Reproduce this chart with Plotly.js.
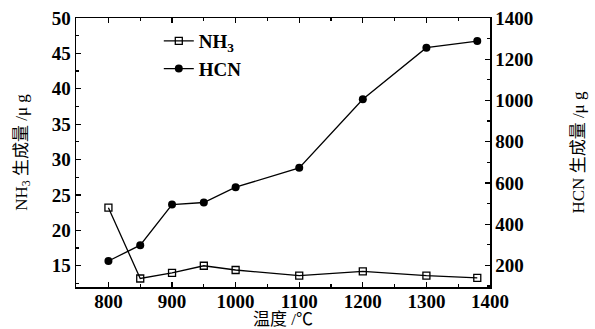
<!DOCTYPE html>
<html>
<head>
<meta charset="utf-8">
<script src="https://cdn.plot.ly/plotly-3.0.1.min.js"></script>
<style>html,body{margin:0;padding:0;background:#fff;}#chart{width:595px;height:329px;}</style>
</head>
<body>
<div id="chart"></div>
<script>
const temperature = [800, 850, 900, 950, 1000, 1100, 1200, 1300, 1380];
const nh3Values = [23.2, 13.2, 14.0, 15.0, 14.4, 13.6, 14.2, 13.6, 13.3];
const hcnValues = [221, 298, 495, 505, 579, 673, 1006, 1256, 1288];
const xTicks = [800, 900, 1000, 1100, 1200, 1300, 1400];

const serif = "'Liberation Serif', 'Noto Sans CJK SC', serif";
const tickFont = {family: serif, size: 19, color: '#000', weight: 700};
const titleFont = {family: serif, size: 17, color: '#000'};

const traces = [
  {
    x: temperature, y: nh3Values, name: 'NH<sub>3</sub>', yaxis: 'y',
    mode: 'lines+markers', line: {color: '#000', width: 1.3},
    marker: {symbol: 'square-open', size: 7, color: '#000', line: {width: 1.3, color: '#000'}}
  },
  {
    x: temperature, y: hcnValues, name: 'HCN', yaxis: 'y2',
    mode: 'lines+markers', line: {color: '#000', width: 1.3},
    marker: {symbol: 'circle', size: 8, color: '#000'}
  }
];

const layout = {
  width: 595, height: 329,
  margin: {l: 76, r: 105, t: 18, b: 42},
  paper_bgcolor: '#fff', plot_bgcolor: '#fff',
  showlegend: true,
  legend: {
    x: 0.2, y: 0.985, xanchor: 'left', yanchor: 'top',
    bgcolor: 'rgba(0,0,0,0)', borderwidth: 0,
    font: {family: serif, size: 19, color: '#000', weight: 700},
    tracegroupgap: 0, itemwidth: 30
  },
  xaxis: {
    range: [749, 1400], tickvals: xTicks, ticktext: xTicks.map(String),
    showline: true, linecolor: '#000', linewidth: 1.5, mirror: 'ticks',
    ticks: 'inside', ticklen: 5, tickwidth: 1.2, tickcolor: '#000',
    minor: {dtick: 50, tick0: 0, ticks: 'inside', ticklen: 3, tickcolor: '#000'},
    showgrid: false, zeroline: false, tickfont: tickFont, ticklabelstandoff: -3,
    title: {text: '温度 /℃', font: titleFont, standoff: 4}
  },
  yaxis: {
    range: [12, 50], dtick: 5, tick0: 0,
    showline: true, linecolor: '#000', linewidth: 1.5,
    ticks: 'inside', ticklen: 5, tickwidth: 1.2, tickcolor: '#000',
    minor: {dtick: 2.5, tick0: 0, ticks: 'inside', ticklen: 3, tickcolor: '#000'},
    showgrid: false, zeroline: false, tickfont: tickFont,
    title: {text: 'NH<sub>3</sub> 生成量 /μ g', font: titleFont, standoff: 20}
  },
  yaxis2: {
    range: [95, 1400], dtick: 200, tick0: 0, overlaying: 'y', side: 'right',
    showline: true, linecolor: '#000', linewidth: 1.5,
    ticks: 'inside', ticklen: 5, tickwidth: 1.2, tickcolor: '#000',
    minor: {dtick: 100, tick0: 0, ticks: 'inside', ticklen: 3, tickcolor: '#000'},
    showgrid: false, zeroline: false, tickfont: tickFont,
    title: {text: 'HCN 生成量 /μ g', font: titleFont, standoff: 40}
  }
};

Plotly.newPlot('chart', traces, layout, {displayModeBar: false, staticPlot: true});
</script>
</body>
</html>
